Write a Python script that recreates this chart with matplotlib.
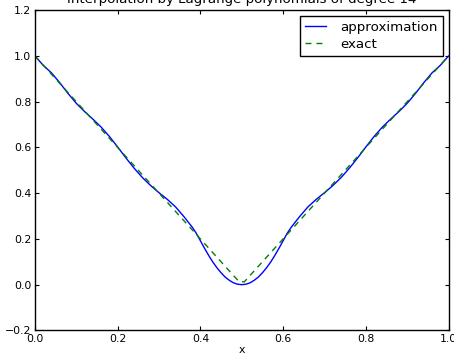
import matplotlib
matplotlib.use("Agg")
import matplotlib.pyplot as plt

title = "Interpolation by Lagrange polynomials of degree 14"
xlabel = "x"
labels = ["approximation", "exact"]

approx_x = [0.00, 0.02, 0.04, 0.06, 0.08, 0.10, 0.12, 0.14, 0.16, 0.18, 0.20,
            0.22, 0.24, 0.26, 0.28, 0.30, 0.32, 0.34, 0.36, 0.38, 0.39, 0.40,
            0.41, 0.42, 0.43, 0.44, 0.45, 0.46, 0.47, 0.48, 0.49, 0.50, 0.51,
            0.52, 0.53, 0.54, 0.55, 0.56, 0.57, 0.58, 0.59, 0.60, 0.61, 0.62,
            0.64, 0.66, 0.68, 0.70, 0.72, 0.74, 0.76, 0.78, 0.80, 0.82, 0.84,
            0.86, 0.88, 0.90, 0.92, 0.94, 0.96, 0.98, 1.00]
approx_y = [1.000, 0.959, 0.926, 0.883, 0.836, 0.793, 0.757, 0.724, 0.689, 0.648,
            0.602, 0.554, 0.509, 0.468, 0.433, 0.402, 0.373, 0.340, 0.298, 0.252,
            0.225, 0.192, 0.159, 0.128, 0.099, 0.074, 0.052, 0.033, 0.019, 0.008,
            0.002, 0.000,
            0.002, 0.008, 0.019, 0.033, 0.052, 0.074, 0.099, 0.128, 0.159, 0.192,
            0.225, 0.252, 0.298, 0.340, 0.373, 0.402, 0.433, 0.468, 0.509, 0.554,
            0.602, 0.648, 0.689, 0.724, 0.757, 0.793, 0.836, 0.883, 0.926, 0.959,
            1.000]

exact_x = [0.0, 0.4937, 0.5063, 1.0]
exact_y = [1.0, 0.0127, 0.0127, 1.0]

xticks = [0.0, 0.2, 0.4, 0.6, 0.8, 1.0]
yticks = [-0.2, 0.0, 0.2, 0.4, 0.6, 0.8, 1.0, 1.2]

fig = plt.figure(figsize=(4.54, 3.56), dpi=100)
fig.patch.set_facecolor("white")
ax = fig.add_axes([35 / 454, (356 - 330.4) / 356, (448.5 - 35) / 454, (330.4 - 10.3) / 356])

ax.plot(approx_x, approx_y, color="#0000ff", linewidth=1.0, label=labels[0])
ax.plot(exact_x, exact_y, color="#008000", linewidth=1.0, dashes=(4.3, 3.6), label=labels[1])

ax.set_xlim(0.0, 1.0)
ax.set_ylim(-0.2, 1.2)
ax.set_xticks(xticks)
ax.set_yticks(yticks)
ax.set_xticklabels([f"{v:.1f}" for v in xticks])
ax.set_yticklabels([f"{v:.1f}".replace("-", "\u2212") for v in yticks])
ax.tick_params(direction="in", length=3, width=0.8, top=True, right=True,
               labelsize=7.8, pad=2.6, colors="black")
for s in ax.spines.values():
    s.set_linewidth(1.0)
    s.set_color("black")

ax.set_title(title, fontsize=9.6, pad=5.5)
ax.set_xlabel(xlabel, fontsize=7.8, labelpad=1)

leg = ax.legend(loc="upper right", fontsize=9.6, handlelength=1.6, handletextpad=1.05,
                labelspacing=0.3, borderpad=0.35, borderaxespad=0.45,
                fancybox=False, framealpha=1.0, edgecolor="black")
leg.get_frame().set_linewidth(1.0)

fig.savefig("out.png", dpi=100, facecolor="white")
